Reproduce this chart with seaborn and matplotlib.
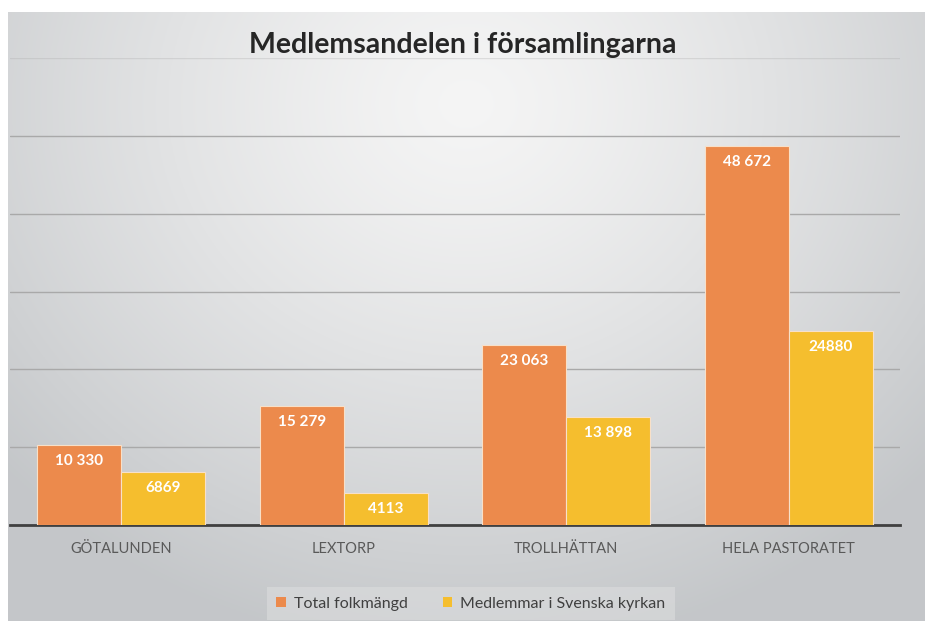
import numpy as np
import pandas as pd
import seaborn as sns
import matplotlib.pyplot as plt

forsamlingar = ['GÖTALUNDEN', 'LEXTORP', 'TROLLHÄTTAN', 'HELA PASTORATET']
total_folkmangd = [10330, 15279, 23063, 48672]
medlemmar = [6869, 4113, 13898, 24880]
total_labels = ['10 330', '15 279', '23 063', '48 672']
medlem_labels = ['6869', '4113', '13 898', '24880']
serier = ['Total folkmängd', 'Medlemmar i Svenska kyrkan']

df = pd.DataFrame({
    'forsamling': forsamlingar * 2,
    'antal': total_folkmangd + medlemmar,
    'serie': [serier[0]] * 4 + [serier[1]] * 4,
})

sns.set_theme(style='white')
plt.rcParams['font.family'] = ['Lato', 'DejaVu Sans']

fig = plt.figure(figsize=(9.25, 6.21), dpi=100)
fig.patch.set_facecolor('white')

# gray radial gradient background like the Excel chart area
bg = fig.add_axes([8 / 925, 0, 1 - 8 / 925, 1 - 12 / 621])
yy, xx = np.mgrid[0:1:300j, 0:1:450j]
r = np.sqrt(((xx - 0.5) / 0.75) ** 2 + ((yy - 0.15) / 1.0) ** 2)
r = np.clip(r / 0.9, 0, 1)
light = np.array([0.96, 0.96, 0.96])
dark = np.array([0.77, 0.78, 0.79])
img = light[None, None, :] * (1 - r[..., None] ** 1.3) + dark[None, None, :] * (r[..., None] ** 1.3)
bg.imshow(img, aspect='auto', extent=[0, 1, 0, 1], origin='upper')
bg.axis('off')

ax = fig.add_axes([10 / 925, 96 / 621, 890 / 925, 467 / 621])
ax.set_facecolor('none')

orange = '#EC8A4C'
yellow = '#F5BE2E'
sns.barplot(data=df, x='forsamling', y='antal', hue='serie', palette=[orange, yellow],
            width=0.755, saturation=1, edgecolor='#F8E0C8', linewidth=0.8, ax=ax, zorder=3)

ax.set_ylim(0, 60000)
ax.set_yticks(range(0, 60001, 10000))
ax.yaxis.grid(True, color='#A9A9A9', linewidth=1)
ax.get_ygridlines()[-1].set_alpha(0.3)
ax.set_axisbelow(True)
ax.set_yticklabels([])
ax.tick_params(axis='y', length=0)
ax.tick_params(axis='x', length=0, pad=12, labelsize=10.5, labelcolor='#595959')
ax.set_xlabel('')
ax.set_ylabel('')
for s in ['top', 'right', 'left']:
    ax.spines[s].set_visible(False)
ax.spines['bottom'].set_color('#404040')
ax.spines['bottom'].set_linewidth(2)

for cont, labs in zip(ax.containers, [total_labels, medlem_labels]):
    for bar, lab in zip(cont, labs):
        ax.annotate(lab, (bar.get_x() + bar.get_width() / 2, bar.get_height()),
                    xytext=(0, -11.5), textcoords='offset points', ha='center', va='center',
                    color='white', fontsize=11, fontweight='bold', zorder=5)

fig.text(0.5, 1 - 45 / 621, 'Medlemsandelen i församlingarna', ha='center', va='center',
         fontsize=20.5, fontweight='bold', color='#262626')

leg = ax.legend(loc='center', bbox_to_anchor=(0.509, 0.028), bbox_transform=fig.transFigure,
                ncol=2, frameon=True, fontsize=11.5, handlelength=0.6, handleheight=0.6,
                handletextpad=0.5, columnspacing=2.2, borderpad=0.6, fancybox=False)
leg.get_frame().set_facecolor('#DCDDDE')
leg.get_frame().set_alpha(0.6)
leg.get_frame().set_linewidth(0)
for t in leg.get_texts():
    t.set_color('#404040')
for h in leg.legend_handles:
    h.set_edgecolor('none')

fig.savefig('out.png', dpi=100)
